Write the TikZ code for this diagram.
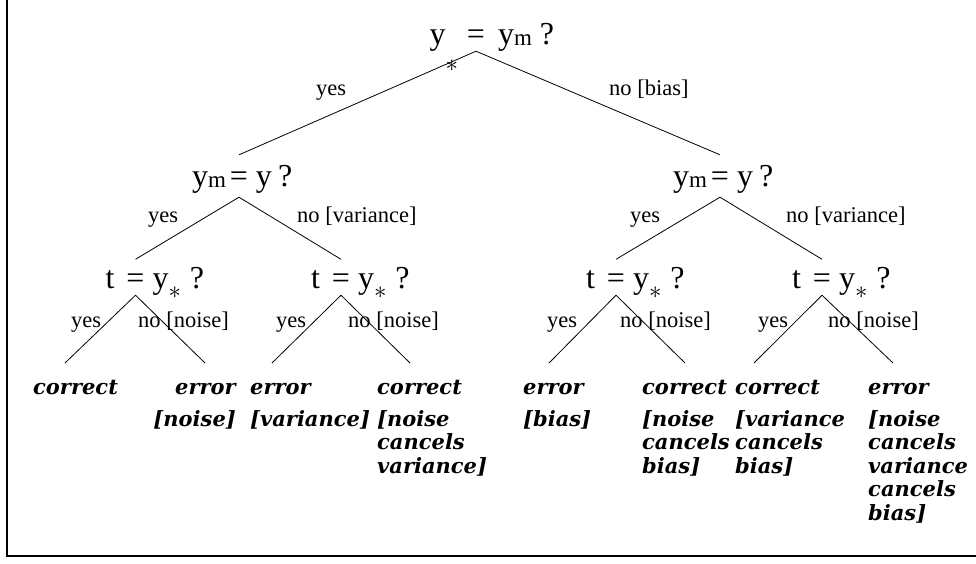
\documentclass[tikz,border=0pt]{standalone}
\usepackage{fontspec}
\setmainfont{Liberation Serif}
\newfontfamily\hojafont{DejaVu Serif}
\usetikzlibrary{positioning}
\tikzset{
  pregunta/.style={anchor=base, inner sep=0pt, text depth=7pt,
    font=\fontsize{32}{32}\selectfont},
  media/.style={pregunta, text height=31pt, text depth=11pt},
  baja/.style={pregunta, text height=28.5pt},
  etiq/.style={anchor=base west, inner sep=0pt,
    font=\fontsize{22.5}{24}\selectfont},
  hoja/.style={anchor=north west, inner sep=0pt, align=left,
    font=\hojafont\bfseries\itshape\fontsize{21}{23.5}\selectfont},
  rama/.style={line width=0.8pt}
}
% text centred on the "=" sign
\newcommand{\igual}[2]{\makebox[0pt][r]{#1}=\makebox[0pt][l]{#2}}
\newcommand{\subm}{\raisebox{-1.5pt}{\fontsize{23}{23}\selectfont m}}
\newcommand{\subast}[2][32]{\smash{\raisebox{#2}{\fontsize{#1}{#1}\selectfont$\ast$}}}

\begin{document}
\begin{tikzpicture}[x=1pt,y=-1pt]
\useasboundingbox (0,0) rectangle (976,563);
\draw[line width=1.5pt] (7,0) -- (7,556) -- (976,556);

% questions
\node[pregunta] (root) at (476,44)
  {\igual{y\subast[36]{-27pt}\hspace{9pt}}{\hspace{13pt}y\subm\hspace{8pt}?}};
\node[media] (ml) at (239,186)
  {\igual{y\subm\hspace{4pt}}{\hspace{8pt}y\hspace{6pt}?}};
\node[media] (mr) at (720,186)
  {\igual{y\subm\hspace{4pt}}{\hspace{8pt}y\hspace{6pt}?}};
\node[baja] (tll) at (135.5,288)
  {\igual{t\hspace{12pt}}{\hspace{8pt}y\subast{-10.5pt}\hspace{9pt}?}};
\node[baja] (tlr) at (341,288)
  {\igual{t\hspace{12pt}}{\hspace{8pt}y\subast{-10.5pt}\hspace{9pt}?}};
\node[baja] (trl) at (616,288)
  {\igual{t\hspace{12pt}}{\hspace{8pt}y\subast{-10.5pt}\hspace{9pt}?}};
\node[baja] (trr) at (822,288)
  {\igual{t\hspace{12pt}}{\hspace{8pt}y\subast{-10.5pt}\hspace{9pt}?}};

% outcomes
\node[hoja] (h1) at (33,378) {\strut correct};
\node[hoja, anchor=north east, align=right] (h2) at (236,378)
  {\strut error\\[8pt][noise]};
\node[hoja] (h3) at (250,378) {\strut error\\[8pt][variance]};
\node[hoja] (h4) at (377,378) {\strut correct\\[8pt][noise\\cancels\\variance]};
\node[hoja] (h5) at (523,378) {\strut error\\[8pt][bias]};
\node[hoja] (h6) at (642,378) {\strut correct\\[8pt][noise\\cancels\\bias]};
\node[hoja] (h7) at (735,378) {\strut correct\\[8pt][variance\\cancels\\bias]};
\node[hoja] (h8) at (868,378)
  {\strut error\\[8pt][noise\\cancels\\variance\\cancels\\bias]};

% ends of the last branches
\coordinate (f1) at (65,363);
\coordinate (f2) at (205,363);
\coordinate (f3) at (272,363);
\coordinate (f4) at (410,363);
\coordinate (f5) at (549,363);
\coordinate (f6) at (685,363);
\coordinate (f7) at (754,363);
\coordinate (f8) at (893,363);

% branches
\draw[rama] (root.south) -- (ml.north);
\draw[rama] (root.south) -- (mr.north);
\draw[rama] (ml.south) -- (tll.north);
\draw[rama] (ml.south) -- (tlr.north);
\draw[rama] (mr.south) -- (trl.north);
\draw[rama] (mr.south) -- (trr.north);
\draw[rama] (tll.south) -- (f1);
\draw[rama] (tll.south) -- (f2);
\draw[rama] (tlr.south) -- (f3);
\draw[rama] (tlr.south) -- (f4);
\draw[rama] (trl.south) -- (f5);
\draw[rama] (trl.south) -- (f6);
\draw[rama] (trr.south) -- (f7);
\draw[rama] (trr.south) -- (f8);

% branch labels
\node[etiq] (e1) at (316,95) {yes};
\node[etiq] (e2) at (609,95) {no [bias]};
\node[etiq] (e3) at (148,222) {yes};
\node[etiq] (e4) at (297,222) {no [variance]};
\node[etiq] (e5) at (630,222) {yes};
\node[etiq] (e6) at (786,222) {no [variance]};
\node[etiq] (e7) at (71,327) {yes};
\node[etiq] (e8) at (138,327) {no [noise]};
\node[etiq] (e9) at (276,327) {yes};
\node[etiq] (e10) at (348,327) {no [noise]};
\node[etiq] (e11) at (547,327) {yes};
\node[etiq] (e12) at (620,327) {no [noise]};
\node[etiq] (e13) at (758,327) {yes};
\node[etiq] (e14) at (828,327) {no [noise]};
\end{tikzpicture}
\end{document}
